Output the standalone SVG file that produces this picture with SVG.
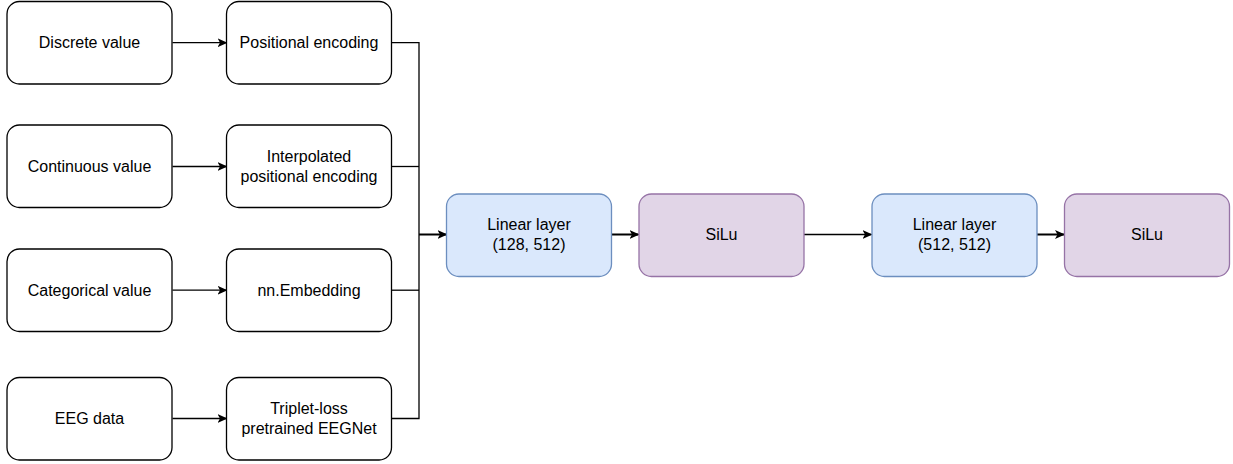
<svg xmlns="http://www.w3.org/2000/svg" width="1233" height="464" viewBox="0 0 1233 464">
  <style>
    .box { fill: #ffffff; stroke: #000000; stroke-width: 1.3; }
    .lin { fill: #dae8fc; stroke: #6c8ebf; stroke-width: 1.3; }
    .act { fill: #e1d5e7; stroke: #9673a6; stroke-width: 1.3; }
    text { font-family: "Liberation Sans", Arial, sans-serif; font-size: 16px; fill: #000000; text-anchor: middle; dominant-baseline: central; }
    .edge { fill: none; stroke: #000000; stroke-width: 1.3; }
    .edge.bold { stroke-width: 2; }
  </style>
  <defs>
    <marker id="arrow" viewBox="0 0 10 10" refX="9" refY="5" markerWidth="10" markerHeight="10" markerUnits="userSpaceOnUse" orient="auto">
      <path d="M0,0.5 L10,5 L0,9.5 L2.5,5 Z" fill="#000000"/>
    </marker>
  </defs>

  <rect width="1233" height="464" fill="#ffffff"/>

  <!-- connectors -->
  <g id="connectors">
    <line class="edge" x1="172.5" y1="42.7" x2="226.5" y2="42.7" marker-end="url(#arrow)"/>
    <line class="edge" x1="172.5" y1="166.5" x2="226.5" y2="166.5" marker-end="url(#arrow)"/>
    <line class="edge" x1="172.5" y1="290.2" x2="226.5" y2="290.2" marker-end="url(#arrow)"/>
    <line class="edge" x1="172.5" y1="418.5" x2="226.5" y2="418.5" marker-end="url(#arrow)"/>
    <!-- encoders merge into a shared bus -->
    <polyline class="edge" points="391.5,42.7 419,42.7 419,418.5 391.5,418.5"/>
    <line class="edge" x1="391.5" y1="166.5" x2="419" y2="166.5"/>
    <line class="edge" x1="391.5" y1="290.2" x2="419" y2="290.2"/>
    <line class="edge bold" x1="419" y1="234.5" x2="446.5" y2="234.5" marker-end="url(#arrow)"/>
    <line class="edge bold" x1="611.5" y1="234.5" x2="638.5" y2="234.5" marker-end="url(#arrow)"/>
    <line class="edge" x1="804" y1="234.5" x2="871.5" y2="234.5" marker-end="url(#arrow)"/>
    <line class="edge bold" x1="1037" y1="234.5" x2="1064" y2="234.5" marker-end="url(#arrow)"/>
  </g>

  <!-- inputs -->
  <g id="discrete-value">
    <rect class="box" x="7" y="1.5" width="165" height="82.5" rx="12.4"/>
    <text x="89.5" y="42.7">Discrete value</text>
  </g>
  <g id="continuous-value">
    <rect class="box" x="7" y="125" width="165" height="82.5" rx="12.4"/>
    <text x="89.5" y="166.5">Continuous value</text>
  </g>
  <g id="categorical-value">
    <rect class="box" x="7" y="249" width="165" height="82.5" rx="12.4"/>
    <text x="89.5" y="290.2">Categorical value</text>
  </g>
  <g id="eeg-data">
    <rect class="box" x="7" y="377.5" width="165" height="82.5" rx="12.4"/>
    <text x="89.5" y="418.5">EEG data</text>
  </g>

  <!-- encoders -->
  <g id="positional-encoding">
    <rect class="box" x="226.5" y="1.5" width="165" height="82.5" rx="12.4"/>
    <text x="309" y="42.7">Positional encoding</text>
  </g>
  <g id="interpolated-encoding">
    <rect class="box" x="226.5" y="125" width="165" height="82.5" rx="12.4"/>
    <text x="309" y="156.5">Interpolated</text>
    <text x="309" y="176.5">positional encoding</text>
  </g>
  <g id="embedding">
    <rect class="box" x="226.5" y="249" width="165" height="82.5" rx="12.4"/>
    <text x="309" y="290.2">nn.Embedding</text>
  </g>
  <g id="eegnet">
    <rect class="box" x="226.5" y="377.5" width="165" height="82.5" rx="12.4"/>
    <text x="309" y="408.5">Triplet-loss</text>
    <text x="309" y="428.5">pretrained EEGNet</text>
  </g>

  <!-- projection head -->
  <g id="linear-1">
    <rect class="lin" x="446.5" y="194" width="165" height="82.5" rx="12.4"/>
    <text x="529" y="224.5">Linear layer</text>
    <text x="529" y="244.5">(128, 512)</text>
  </g>
  <g id="silu-1">
    <rect class="act" x="639" y="194" width="165" height="82.5" rx="12.4"/>
    <text x="721.5" y="234.5">SiLu</text>
  </g>
  <g id="linear-2">
    <rect class="lin" x="872" y="194" width="165" height="82.5" rx="12.4"/>
    <text x="954.5" y="224.5">Linear layer</text>
    <text x="954.5" y="244.5">(512, 512)</text>
  </g>
  <g id="silu-2">
    <rect class="act" x="1064.5" y="194" width="165" height="82.5" rx="12.4"/>
    <text x="1147" y="234.5">SiLu</text>
  </g>
</svg>
